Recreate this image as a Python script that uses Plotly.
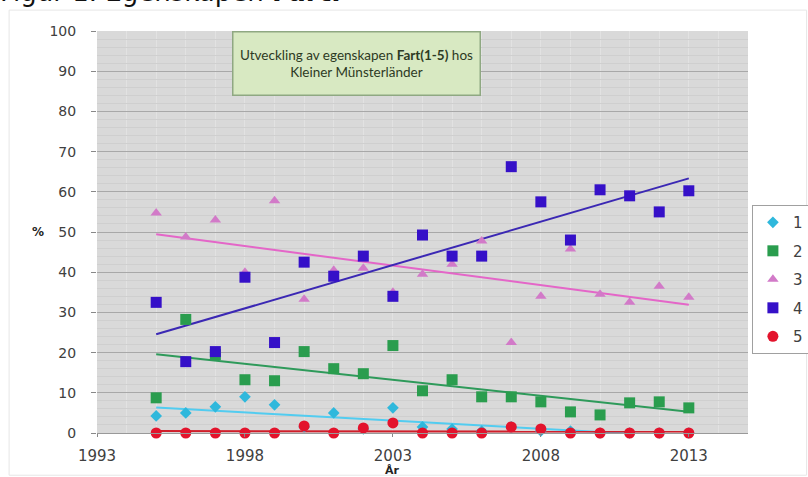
import numpy as np
import plotly.graph_objects as go

years = list(range(1995, 2014))
s1 = [4.25, 5, 6.5, 9, 7, 1.5, 5, 1, 6.25, 1.5, 1, 0.5, 1.5, 0.5, 0.5, 0, 0, 0, 0]
s2 = [8.75, 28.25, 19.5, 13.25, 13, 20.25, 16, 14.75, 21.75, 10.5, 13.25, 9, 9, 7.75, 5.25, 4.5, 7.5, 7.75, 6.25]
s3 = [54.75, 48.75, 53, 40, 57.75, 33.25, 40.5, 41, 35, 39.5, 42, 47.75, 22.5, 34, 45.75, 34.5, 32.5, 36.5, 33.75]
s4 = [32.5, 17.75, 20.25, 38.75, 22.5, 42.5, 39, 44, 34, 49.25, 44, 44, 66.25, 57.5, 48, 60.5, 59, 55, 60.25]
s5 = [0, 0, 0, 0, 0, 1.75, 0, 1.25, 2.5, 0, 0, 0, 1.5, 1, 0, 0, 0, 0, 0]
names = ["1", "2", "3", "4", "5"]
x_ticks = [1993, 1998, 2003, 2008, 2013]
y_ticks = list(range(0, 101, 10))

series = [s1, s2, s3, s4, s5]
marker_colors = ["#2fb8dc", "#2a9d4e", "#d27ac8", "#3510c8", "#e3132c"]
line_colors = ["#52ccf0", "#2e9a5a", "#e466c8", "#3b28b4", "#d01e2a"]
symbols = ["diamond", "square", "triangle-up", "square", "circle"]
sizes = [9, 11, 10, 11, 11]

fig = go.Figure()
for i, s in enumerate(series):
    k, m = np.polyfit(years, s, 1)
    fit = [k * y + m for y in (years[0], years[-1])]
    fig.add_trace(go.Scatter(x=[years[0], years[-1]], y=fit, mode="lines",
                             line=dict(color=line_colors[i], width=2),
                             showlegend=False, hoverinfo="skip"))
for i, s in enumerate(series):
    fig.add_trace(go.Scatter(x=years, y=s, mode="markers", name=names[i],
                             legendgroup=names[i],
                             marker=dict(symbol=symbols[i], size=sizes[i], color=marker_colors[i]),
                             cliponaxis=False))

fig.update_layout(
    width=808, height=477,
    margin=dict(l=97, r=60, t=31, b=44, autoexpand=False),
    paper_bgcolor="white", plot_bgcolor="#d9d9d9",
    font=dict(family="DejaVu Sans", size=14, color="#404040"),
    legend=dict(x=1.006, y=0.567, xanchor="left", yanchor="top",
                bordercolor="#a0a0a0", borderwidth=1, bgcolor="white",
                tracegroupgap=6, font=dict(size=15, color="#404040"),
                itemwidth=30),
    xaxis=dict(range=[1993, 2015], tickvals=x_ticks, showgrid=False,
               ticks="outside", ticklen=3, tickcolor="#888",
               showline=True, linecolor="#999", ticklabelstandoff=6,
               tickfont=dict(size=15),
               minor=dict(dtick=1, showgrid=True, gridcolor="#e2e2e2", gridwidth=1),
               zeroline=False),
    yaxis=dict(range=[0, 100], tickvals=y_ticks, showgrid=True, gridcolor="#a8a8a8",
               gridwidth=1, ticks="outside", ticklen=5, tickcolor="#888",
               showline=False, ticklabelstandoff=12,
               tickfont=dict(size=14),
               minor=dict(dtick=2, showgrid=True, gridcolor="#cfcfcf", gridwidth=1),
               zeroline=False),
)

fig.add_annotation(xref="paper", yref="paper", x=0.398, y=0.919,
                   xanchor="center", yanchor="middle",
                   text="Utveckling av egenskapen <b>Fart(1-5)</b> hos<br>Kleiner Münsterländer",
                   showarrow=False, font=dict(family="Lato", size=13.5, color="#2d3a24"),
                   bgcolor="#d8e9c2", bordercolor="#8fa882", borderwidth=1.5,
                   borderpad=3, align="center", width=240, height=56)
fig.add_annotation(xref="paper", yref="paper", x=-0.152, y=1.097, xanchor="left",
                   yanchor="middle", text="Figur 1. Egenskapen <b>Fart.</b>",
                   showarrow=False, font=dict(family="DejaVu Sans", size=26, color="#111"))
fig.add_annotation(xref="x", yref="paper", x=2003, y=-0.094, yanchor="middle",
                   text="<b>År</b>", showarrow=False,
                   font=dict(family="DejaVu Sans", size=11, color="#222"))
fig.add_annotation(xref="paper", yref="paper", x=-0.103, y=0.5,
                   text="<b>%</b>", showarrow=False,
                   font=dict(family="DejaVu Sans", size=12, color="#222"))
fig.add_shape(type="rect", xref="paper", yref="paper", x0=-0.135, x1=1.09,
              y0=-0.105, y1=1.052, line=dict(color="#e6e6e6", width=1), layer="below")

fig.write_html("out.html", config={"displayModeBar": False},
               post_script="document.body.style.margin='0';document.body.style.overflow='hidden';")
